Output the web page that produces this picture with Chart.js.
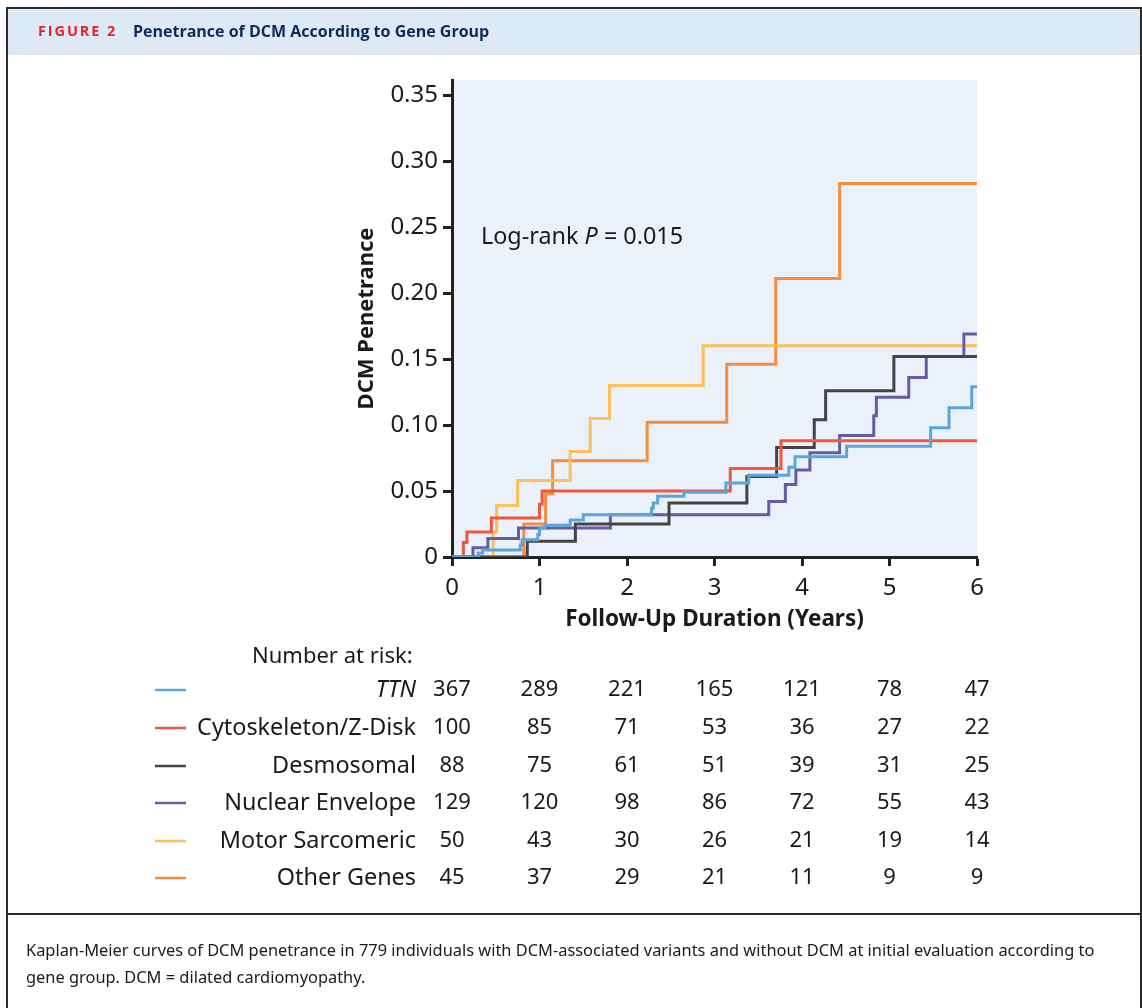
<!DOCTYPE html>
<html>
<head>
<meta charset="utf-8">
<script src="https://cdn.jsdelivr.net/npm/chart.js@4.4.1/dist/chart.umd.min.js"></script>
<style>
  html, body { margin: 0; padding: 0; background: #fff; }
  #page { position: relative; width: 1142px; height: 1008px; overflow: hidden; font-family: "Noto Sans", sans-serif; }
  #km { position: absolute; left: 0; top: 0; }
  .frame { position: absolute; left: 6px; top: 7px; width: 1132px; height: 1010px; border: 2px solid #2a2a2a; border-bottom: none; }
  .header { position: absolute; left: 8px; top: 9px; width: 1132px; height: 46px; background: #dde9f5; }
  .header .fig { position: absolute; left: 30px; top: 12px; color: #e3232c; font: bold 14.5px "Open Sans", sans-serif; letter-spacing: 1.9px; }
  .header .ttl { position: absolute; left: 125px; top: 11px; color: #10295a; font: bold 16px "Open Sans", sans-serif; }
  .sep { position: absolute; left: 6px; top: 913px; width: 1136px; height: 2px; background: #2a2a2a; }
  .caption { position: absolute; left: 26px; top: 936px; width: 1110px; color: #1a1a1a; font: 16.4px "Noto Sans", sans-serif; line-height: 27px; white-space: nowrap; }
</style>
</head>
<body>
<div id="page">
  <canvas id="km" width="1142" height="1008"></canvas>
  <div class="header"><span class="fig">FIGURE 2</span><span class="ttl">Penetrance of DCM According to Gene Group</span></div>
  <div class="frame"></div>
  <div class="sep"></div>
  <div class="caption">Kaplan-Meier curves of DCM penetrance in 779 individuals with DCM-associated variants and without DCM at initial evaluation according to<br>gene group. DCM = dilated cardiomyopathy.</div>
</div>
<script>
// ==============================================
// Data
const xTicks = [0, 1, 2, 3, 4, 5, 6];
const yTicks = [0, 0.05, 0.10, 0.15, 0.20, 0.25, 0.30, 0.35];

const groups = ['TTN', 'Cytoskeleton/Z-Disk', 'Desmosomal', 'Nuclear Envelope', 'Motor Sarcomeric', 'Other Genes'];
const colors = ['#5aa5dc', '#f0573c', '#444446', '#655ca6', '#fdbf58', '#f68c3e'];

const ttnTime = [0, 0.30, 0.35, 0.78, 0.80, 0.98, 1.00, 1.06, 1.35, 1.50, 2.28, 2.30, 2.35, 2.65, 3.13, 3.39, 3.85, 3.92, 4.51, 5.47, 5.68, 5.94, 6];
const ttnPen  = [0, 0.003, 0.0053, 0.009, 0.013, 0.017, 0.022, 0.024, 0.028, 0.032, 0.037, 0.041, 0.046, 0.049, 0.056, 0.062, 0.068, 0.076, 0.084, 0.098, 0.113, 0.129, 0.129];

const cytoTime = [0, 0.13, 0.17, 0.45, 1.00, 1.03, 3.18, 3.76, 6];
const cytoPen  = [0, 0.011, 0.019, 0.0295, 0.040, 0.050, 0.067, 0.088, 0.088];

const desmoTime = [0, 0.86, 1.41, 2.48, 3.37, 3.71, 4.14, 4.27, 5.05, 6];
const desmoPen  = [0, 0.012, 0.025, 0.041, 0.061, 0.083, 0.104, 0.126, 0.152, 0.152];

const nuclearTime = [0, 0.24, 0.41, 0.76, 1.81, 3.62, 3.81, 3.93, 4.09, 4.43, 4.82, 4.85, 5.22, 5.42, 5.85, 6];
const nuclearPen  = [0, 0.007, 0.014, 0.022, 0.032, 0.042, 0.055, 0.066, 0.079, 0.092, 0.107, 0.121, 0.136, 0.152, 0.169, 0.169];

const motorTime = [0, 0.47, 0.51, 0.75, 1.35, 1.58, 1.80, 2.87, 6];
const motorPen  = [0, 0.019, 0.039, 0.058, 0.080, 0.105, 0.130, 0.160, 0.160];

const otherTime = [0, 0.82, 1.07, 1.15, 2.23, 3.14, 3.70, 4.43, 6];
const otherPen  = [0, 0.025, 0.048, 0.073, 0.102, 0.146, 0.211, 0.283, 0.283];

// Number at risk
const ttnRisk     = [367, 289, 221, 165, 121, 78, 47];
const cytoRisk    = [100, 85, 71, 53, 36, 27, 22];
const desmoRisk   = [88, 75, 61, 51, 39, 31, 25];
const nuclearRisk = [129, 120, 98, 86, 72, 55, 43];
const motorRisk   = [50, 43, 30, 26, 21, 19, 14];
const otherRisk   = [45, 37, 29, 21, 11, 9, 9];
// ==============================================

const curves = [
    [ttnTime, ttnPen], [cytoTime, cytoPen], [desmoTime, desmoPen],
    [nuclearTime, nuclearPen], [motorTime, motorPen], [otherTime, otherPen]
];
const riskRows = [ttnRisk, cytoRisk, desmoRisk, nuclearRisk, motorRisk, otherRisk];

const FONT = '"Noto Sans", sans-serif';
const INK = '#1a1a1a';

function toPoints(t, v) {
    return t.map((x, i) => ({ x: x, y: v[i] }));
}

// plot background + annotation + risk table
const kmExtras = {
    id: 'kmExtras',
    beforeDraw(chart) {
        const a = chart.chartArea;
        const ctx = chart.ctx;
        ctx.save();
        ctx.fillStyle = '#eaf1fa';
        ctx.fillRect(a.left, a.top, a.right - a.left, a.bottom - a.top);
        ctx.restore();
    },
    afterDraw(chart) {
        const ctx = chart.ctx;
        const xs = chart.scales.x;
        const ys = chart.scales.y;
        ctx.save();
        ctx.fillStyle = INK;
        ctx.textBaseline = 'middle';

        // Log-rank P
        let lx = xs.getPixelForValue(0.33);
        const ly = ys.getPixelForValue(0.242);
        ctx.textAlign = 'left';
        ctx.font = '23.4px ' + FONT;
        ctx.fillText('Log-rank ', lx, ly);
        lx += ctx.measureText('Log-rank ').width;
        ctx.font = 'italic 23.4px ' + FONT;
        ctx.fillText('P', lx, ly);
        lx += ctx.measureText('P').width;
        ctx.font = '23.4px ' + FONT;
        ctx.fillText(' = 0.015', lx, ly);

        // Number at risk table
        ctx.font = '22px ' + FONT;
        ctx.fillText('Number at risk:', 252, 657);
        const rowY = [690, 728, 766, 803, 841, 878];
        riskRows.forEach((row, r) => {
            const y = rowY[r];
            ctx.strokeStyle = colors[r];
            ctx.lineWidth = 2.5;
            ctx.beginPath();
            ctx.moveTo(155, y);
            ctx.lineTo(186, y);
            ctx.stroke();
            ctx.textAlign = 'right';
            ctx.font = (r === 0 ? 'italic ' : '') + '23.4px ' + FONT;
            ctx.fillText(groups[r], 416, y);
            ctx.textAlign = 'center';
            ctx.font = '22px ' + FONT;
            row.forEach((n, i) => {
                ctx.fillText(String(n), xs.getPixelForValue(xTicks[i]), y);
            });
        });
        ctx.restore();
    }
};

new Chart(document.getElementById('km'), {
    type: 'line',
    data: {
        datasets: curves.map((c, i) => ({
            label: groups[i],
            data: toPoints(c[0], c[1]),
            borderColor: colors[i],
            borderWidth: 3,
            stepped: 'before',
            pointRadius: 0,
            fill: false,
            tension: 0
        }))
    },
    options: {
        responsive: false,
        animation: false,
        devicePixelRatio: 1,
        layout: {
            padding: { left: 342, right: 165, top: 80, bottom: 371 }
        },
        plugins: {
            legend: { display: false },
            tooltip: { enabled: false }
        },
        scales: {
            x: {
                type: 'linear',
                min: 0,
                max: 6,
                afterFit: s => { s.height = 80; },
                afterBuildTicks: s => { s.ticks = xTicks.map(v => ({ value: v })); },
                grid: { drawOnChartArea: false, drawTicks: true, tickLength: 9, tickWidth: 3, tickColor: '#222' },
                border: { color: '#222', width: 3 },
                ticks: { color: INK, font: { family: FONT, size: 24 }, padding: 8, maxRotation: 0 },
                title: {
                    display: true,
                    text: 'Follow-Up Duration (Years)',
                    color: INK,
                    font: { family: FONT, size: 22.5, weight: 'bold', lineHeight: 1.2 },
                    padding: { top: 0, bottom: 4 }
                }
            },
            y: {
                type: 'linear',
                min: 0,
                max: 0.3614,
                afterFit: s => { s.width = 110; },
                afterBuildTicks: s => { s.ticks = yTicks.map(v => ({ value: v })); },
                grid: { drawOnChartArea: false, drawTicks: true, tickLength: 9, tickWidth: 3, tickColor: '#222' },
                border: { color: '#222', width: 3 },
                ticks: {
                    color: INK,
                    font: { family: FONT, size: 24 },
                    padding: 5,
                    callback: v => (v === 0 ? '0' : v.toFixed(2))
                },
                title: {
                    display: true,
                    text: 'DCM Penetrance',
                    color: INK,
                    font: { family: FONT, size: 22, weight: 'bold', lineHeight: 1.2 },
                    padding: { top: 12, bottom: 0 }
                }
            }
        }
    },
    plugins: [kmExtras]
});
</script>
</body>
</html>
